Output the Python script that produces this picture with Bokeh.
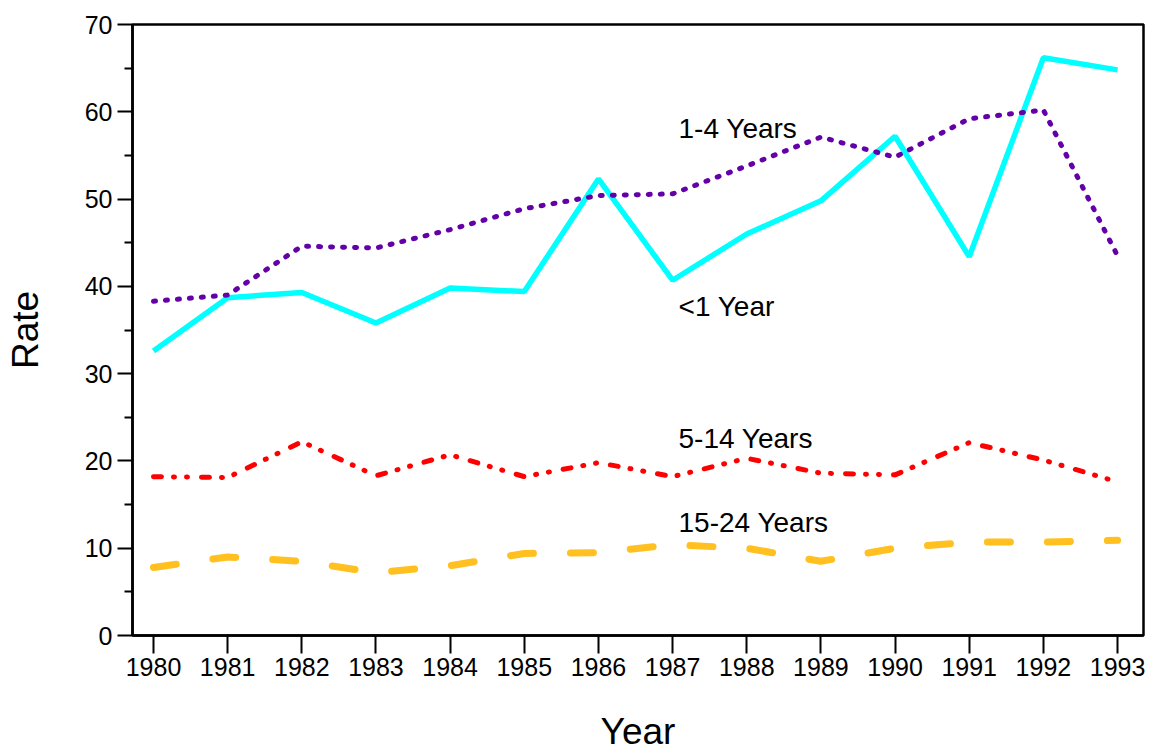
from bokeh.plotting import figure
from bokeh.models import FixedTicker, ColumnDataSource
from bokeh.core.properties import value
from bokeh.embed import file_html
from bokeh.resources import INLINE

years = list(range(1980, 1994))
under1 = [32.6, 38.7, 39.3, 35.8, 39.8, 39.4, 52.3, 40.7, 46.0, 49.8, 57.2, 43.4, 66.2, 64.8]
age1_4 = [38.3, 39.0, 44.6, 44.4, 46.5, 48.9, 50.4, 50.6, 53.8, 57.1, 54.8, 59.2, 60.2, 43.5]
age5_14 = [18.2, 18.1, 22.2, 18.3, 20.7, 18.2, 19.8, 18.2, 20.3, 18.6, 18.4, 22.1, 20.1, 17.6]
age15_24 = [7.8, 9.0, 8.5, 7.2, 8.0, 9.4, 9.5, 10.4, 10.0, 8.5, 10.0, 10.7, 10.7, 10.9]
series_labels = ["1-4 Years", "<1 Year", "5-14 Years", "15-24 Years"]
y_ticks = [0, 10, 20, 30, 40, 50, 60, 70]

FONT = "Liberation Sans"

p = figure(width=1145, height=754, output_backend="svg", toolbar_location=None,
           x_range=(1979.717, 1993.35), y_range=(0, 70),
           min_border_left=132, min_border_top=24, min_border_right=2, min_border_bottom=117)
p.grid.visible = False
p.outline_line_color = "black"
p.outline_line_width = 2.5
p.background_fill_color = "white"
p.border_fill_color = "white"

p.xaxis.ticker = FixedTicker(ticks=years, minor_ticks=[])
p.yaxis.ticker = FixedTicker(ticks=y_ticks, minor_ticks=[5, 15, 25, 35, 45, 55, 65])
for ax in (p.xaxis[0], p.yaxis[0]):
    ax.axis_line_color = "black"
    ax.axis_line_width = 2.5
    ax.major_tick_line_color = "black"
    ax.major_tick_line_width = 2
    ax.minor_tick_line_color = "black"
    ax.minor_tick_line_width = 2
    ax.major_label_text_font = FONT
    ax.major_label_text_font_size = "25px"
    ax.major_label_text_color = "black"
    ax.axis_label_text_font = FONT
    ax.axis_label_text_font_style = "normal"
    ax.axis_label_text_color = "black"
    ax.axis_label_text_font_size = "37px"

p.xaxis.major_tick_in = 0
p.xaxis.major_tick_out = 18
p.xaxis.major_label_standoff = 4
p.xaxis.axis_label = "Year"
p.xaxis.axis_label_standoff = 32

p.yaxis.major_tick_in = 0
p.yaxis.major_tick_out = 15
p.yaxis.minor_tick_in = 0
p.yaxis.minor_tick_out = 8
p.yaxis.major_label_standoff = 5
p.yaxis.axis_label = "Rate"
p.yaxis.axis_label_standoff = 36

p.line(years, age15_24, line_color="#FFC020", line_width=7, line_dash="23 37", line_cap="round")
p.line(years, age5_14, line_color="#FF0000", line_width=5, line_dash="8 12 1 12 1 14", line_cap="round")
p.line(years, under1, line_color="#00FFFF", line_width=5.5)
p.line(years, age1_4, line_color="#6400A8", line_width=5, line_dash="2 10", line_cap="round")

label_x = [1987.08] * 4
label_y = [58.1, 37.7, 22.6, 13.0]
src = ColumnDataSource(dict(x=label_x, y=label_y, t=series_labels))
p.text(x="x", y="y", text="t", source=src, text_font=value(FONT), text_font_size="28px",
       text_color="black", text_baseline="middle", text_align="left")

open("out.html", "w").write(file_html(p, INLINE))
